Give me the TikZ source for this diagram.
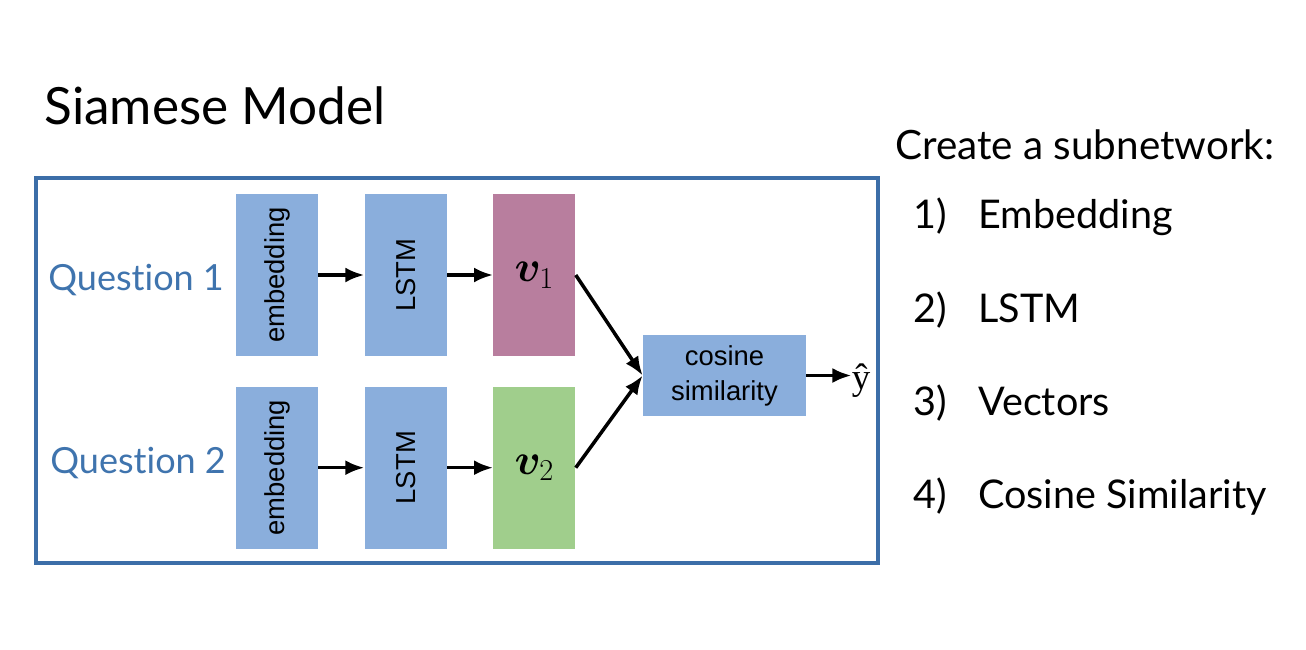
\documentclass[tikz,border=0pt]{standalone}
\usepackage{amsmath}
\usepackage{bm}
\usepackage[no-math]{fontspec}
\setmainfont{Lato}[Ligatures=NoCommon]
\newfontfamily\boxfont{Liberation Sans}
\newfontfamily\hatfont{Liberation Serif}
\usepackage{xcolor}
\usepackage{tikz}
\usetikzlibrary{arrows.meta,positioning}

\definecolor{frameblue}{HTML}{3C6EA8}
\definecolor{qblue}{HTML}{3F74AE}
\definecolor{boxblue}{HTML}{8AAEDC}
\definecolor{vpink}{HTML}{B87E9E}
\definecolor{vgreen}{HTML}{A0CE8C}

\begin{document}
\begin{tikzpicture}[
    node distance=0.6cm and 0.92cm,
    box/.style={rectangle, fill=boxblue, minimum width=1.64cm, minimum height=3.24cm, inner sep=0pt, align=center, font=\boxfont\fontsize{15.6}{17}\selectfont},
    vec/.style={rectangle, minimum width=1.64cm, minimum height=3.24cm, inner sep=0pt, font=\fontsize{25}{27}\selectfont},
    flow/.style={-{Latex[length=0.38cm,width=0.30cm]}, line width=2pt},
    label/.style={anchor=base west, inner sep=0pt},
    side/.style={label, font=\fontsize{22.5}{26}\selectfont}
]
    \fill[white] (0,0) rectangle (26.12,-12.98);

    % Title and frame
    \node[label, font=\fontsize{29.2}{34}\selectfont] (title) at (0.88,-2.48) {Siamese Model};
    \draw[frameblue, line width=2pt] (0.72,-3.56) rectangle (17.56,-11.26);

    % Nodes
    \node[box] (emb1) at (5.54,-5.50) {\rotatebox{90}{embedding}};
    \node[box, right=of emb1] (lstm1) {\rotatebox{90}{LSTM}};
    \node[vec, fill=vpink, right=of lstm1] (v1) {$\bm{v}_{1}$};
    \node[box, below=of emb1] (emb2) {\rotatebox{90}{embedding}};
    \node[box, right=of emb2] (lstm2) {\rotatebox{90}{LSTM}};
    \node[vec, fill=vgreen, right=of lstm2] (v2) {$\bm{v}_{2}$};
    \node[box, minimum width=3.26cm, minimum height=1.62cm] (cos) at (14.49,-7.51) {cosine\\[3pt]similarity};
    \node[inner sep=0pt, font=\hatfont\fontsize{21}{23}\selectfont] (yhat) at (17.22,-7.62) {ŷ};

    % Inputs
    \node[label, text=qblue, font=\fontsize{20.5}{24}\selectfont] (q1) at (0.96,-5.80) {Question 1};
    \node[label, text=qblue, font=\fontsize{20.5}{24}\selectfont] (q2) at (1.00,-9.46) {Question 2};

    % Arrows
    \draw[flow] (emb1) -- (lstm1);
    \draw[flow] (lstm1) -- (v1);
    \draw[flow] (emb2) -- (lstm2);
    \draw[flow] (lstm2) -- (v2);
    \draw[flow] (v1.east) -- (cos.west);
    \draw[flow] (v2.east) -- (cos.west);
    \draw[flow] (cos.east) -- (cos.east -| yhat.west);

    % Steps
    \node[side, font=\fontsize{23}{26}\selectfont] (steps) at (17.90,-3.18) {Create a subnetwork:};
    \foreach \n/\txt/\y in {1/Embedding/-4.56, 2/LSTM/-6.44, 3/Vectors/-8.30, 4/Cosine Similarity/-10.16} {
        \node[side] (num\n) at (18.26,\y) {\n)};
        \node[side] (step\n) at (19.56,\y) {\txt};
    }
\end{tikzpicture}
\end{document}
